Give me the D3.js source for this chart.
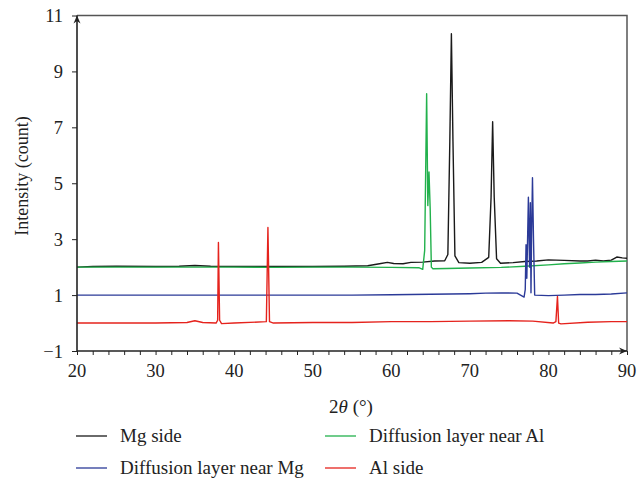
<!DOCTYPE html>
<html><head><meta charset="utf-8"><script src="https://cdn.jsdelivr.net/npm/d3@7"></script></head>
<body style="margin:0">
<svg id="chart" width="637" height="487" style="font-family: 'Liberation Serif', monospace"></svg>
<script>
// data: [2theta, intensity]
const mgSide = [
  [20, 2.0], [22, 2.02], [25, 2.03], [30, 2.02], [33, 2.03], [35, 2.06], [37, 2.03], [42, 2.02],
  [46, 2.02], [50, 2.02], [54, 2.03], [57, 2.05], [58.5, 2.12], [59.5, 2.17], [60.3, 2.13],
  [61.5, 2.12], [62.5, 2.17], [64, 2.18], [65.5, 2.22], [66.8, 2.23], [67.2, 2.45], [67.45, 6.5],
  [67.65, 10.35], [67.85, 6.5], [68.1, 2.4], [68.6, 2.16], [70, 2.14], [71.5, 2.17], [72.4, 2.35],
  [72.7, 4.5], [72.9, 7.2], [73.1, 4.5], [73.4, 2.3], [73.9, 2.14], [75.5, 2.16], [77, 2.2],
  [78.5, 2.22], [80, 2.26], [82, 2.24], [84, 2.22], [85, 2.22], [86, 2.25], [87, 2.22],
  [88, 2.25], [88.7, 2.36], [89.4, 2.33], [90, 2.32]
];
const nearAl = [
  [20, 2.0], [25, 2.0], [30, 2.0], [35, 2.0], [40, 2.0], [45, 1.99], [50, 2.0], [55, 2.0],
  [60, 1.99], [63.5, 1.98], [64.0, 1.92], [64.25, 2.6], [64.5, 8.2], [64.65, 4.2], [64.8, 5.4],
  [64.95, 4.1], [65.1, 2.0], [65.3, 1.94], [67, 1.95], [70, 1.97], [74, 1.99], [77, 2.03],
  [80, 2.08], [82, 2.12], [84, 2.15], [86, 2.18], [88, 2.2], [90, 2.22]
];
const nearMg = [
  [20, 1.0], [30, 1.0], [40, 1.0], [50, 1.0], [55, 1.0], [60, 1.01], [65, 1.03], [70, 1.05],
  [72, 1.07], [74, 1.08], [76, 1.07], [76.9, 0.93], [77.05, 1.2], [77.15, 2.8], [77.25, 1.6],
  [77.45, 4.5], [77.6, 2.0], [77.7, 4.3], [77.78, 1.08], [77.85, 3.0], [77.97, 5.2], [78.1, 3.0],
  [78.25, 1.0], [80, 0.98], [82, 1.0], [84, 1.02], [86, 1.02], [88, 1.04], [90, 1.08]
];
const alSide = [
  [20, 0.0], [25, 0.0], [30, 0.0], [34, 0.02], [35, 0.08], [36, 0.02], [37.7, 0.0], [37.9, 0.1],
  [38.0, 2.88], [38.15, 0.1], [38.4, -0.02], [40, 0.0], [44.1, 0.05], [44.3, 3.42], [44.5, 0.05],
  [45, 0.0], [50, 0.02], [55, 0.02], [60, 0.05], [65, 0.05], [70, 0.07], [75, 0.08], [78, 0.07],
  [80.6, 0.0], [80.95, 0.05], [81.15, 0.95], [81.3, 0.0], [81.6, -0.03], [85, 0.03], [88, 0.05], [90, 0.05]
];

const seriesNames = ["Mg side", "Diffusion layer near Al", "Diffusion layer near Mg", "Al side"];
const seriesColors = ["#1a1a1a", "#22b14c", "#2b3a98", "#e5231d"];
const xTicks = [20, 30, 40, 50, 60, 70, 80, 90];
const yTicks = [-1, 1, 3, 5, 7, 9, 11];

const svg = d3.select("#chart");
const pLeft = 77, pRight = 627, pTop = 15.5, pBottom = 351;
const serif = "'Liberation Serif', monospace";

const x = d3.scaleLinear().domain([20, 90]).range([pLeft, pRight]);
const y = d3.scaleLinear().domain([-1, 11]).range([pBottom, pTop]);

// frame (top and right)
svg.append("path")
  .attr("d", `M${pLeft},${pTop}H${pRight}V${pBottom}`)
  .attr("fill", "none").attr("stroke", "#555").attr("stroke-width", 1.5);

// lines
const line = d3.line().x(d => x(d[0])).y(d => y(d[1]));
const allSeries = [mgSide, nearAl, nearMg, alSide];
allSeries.forEach((s, i) => {
  svg.append("path")
    .datum(s)
    .attr("d", line)
    .attr("fill", "none")
    .attr("stroke", seriesColors[i])
    .attr("stroke-width", 1.4)
    .attr("stroke-linejoin", "round");
});

// x axis ticks (d3 axis adds a sans-serif font attribute, drop it)
const xAxis = svg.append("g").attr("transform", `translate(0,${pBottom})`)
  .call(d3.axisBottom(x).tickValues(d3.range(20, 91, 2)).tickSize(4).tickFormat(""))
  .attr("font-family", null).attr("font-size", null);
xAxis.select(".domain").remove();
xAxis.selectAll("text").remove();
xAxis.selectAll("line").attr("stroke", "#222").attr("stroke-width", 1);
svg.selectAll(".xlab")
  .data(xTicks).enter().append("text")
  .attr("class", "xlab")
  .attr("x", d => x(d)).attr("y", pBottom + 26)
  .attr("text-anchor", "middle").attr("font-size", 18.5).attr("fill", "#222")
  .style("font-family", serif)
  .text(d => d);

// y axis ticks
const yAxis = svg.append("g").attr("transform", `translate(${pLeft},0)`)
  .call(d3.axisLeft(y).tickValues(yTicks).tickSize(5).tickFormat(""))
  .attr("font-family", null).attr("font-size", null);
yAxis.select(".domain").remove();
yAxis.selectAll("text").remove();
yAxis.selectAll("line").attr("stroke", "#222").attr("stroke-width", 1);
svg.selectAll(".ylab")
  .data(yTicks).enter().append("text")
  .attr("class", "ylab")
  .attr("x", pLeft - 14).attr("y", d => y(d) + 6.5)
  .attr("text-anchor", "end").attr("font-size", 18.5).attr("fill", "#222")
  .style("font-family", serif)
  .text(d => d < 0 ? "\u2212" + Math.abs(d) : d);

// axis lines with arrows
svg.append("line").attr("x1", pLeft).attr("x2", pRight).attr("y1", pBottom).attr("y2", pBottom)
  .attr("stroke", "#222").attr("stroke-width", 1.6);
svg.append("line").attr("x1", pLeft).attr("x2", pLeft).attr("y1", pBottom).attr("y2", pTop)
  .attr("stroke", "#222").attr("stroke-width", 1.6);
svg.append("path").attr("d", `M${pRight},${pBottom}l-8,-3.5l2.5,3.5l-2.5,3.5z`).attr("fill", "#222");
svg.append("path").attr("d", `M${pLeft},${pTop}l-3.5,8l3.5,-2.5l3.5,2.5z`).attr("fill", "#222");

// axis titles
const xt = svg.append("text").attr("x", 351).attr("y", 413)
  .attr("text-anchor", "middle").attr("font-size", 19).attr("fill", "#222")
  .style("font-family", serif);
xt.append("tspan").text("2");
xt.append("tspan").attr("font-style", "italic").text("\u03b8");
xt.append("tspan").text(" (\u00b0)");

svg.append("text")
  .attr("transform", "translate(28,176) rotate(-90)")
  .attr("text-anchor", "middle").attr("font-size", 18).attr("fill", "#222")
  .style("font-family", serif)
  .text("Intensity (count)");

// legend
const legendPos = [[76, 436], [325, 436], [76, 468], [325, 468]];
seriesNames.forEach((name, i) => {
  const [lx, ly] = legendPos[i];
  svg.append("line").attr("x1", lx).attr("x2", lx + 31).attr("y1", ly).attr("y2", ly)
    .attr("stroke", seriesColors[i]).attr("stroke-width", 1.3);
});
svg.selectAll(".leg")
  .data(seriesNames).enter().append("text")
  .attr("class", "leg")
  .attr("x", (d, i) => legendPos[i][0] + 44).attr("y", (d, i) => legendPos[i][1] + 6)
  .attr("font-size", 19).attr("fill", "#222")
  .style("font-family", serif)
  .text(d => d);
</script>
</body>
</html>
